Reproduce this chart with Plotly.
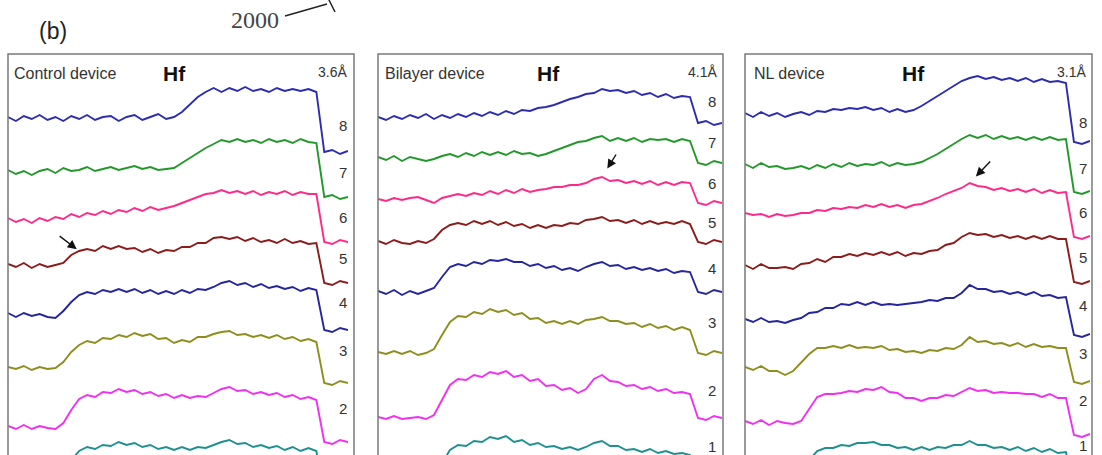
import plotly.graph_objects as go

# sample index along each line scan (44 samples per scan)
positions = list(range(44))

panel_titles = ["Control device", "Bilayer device", "NL device"]
element_label = "Hf"
thickness_labels = ["3.6Å", "4.1Å", "3.1Å"]
trace_numbers = [8, 7, 6, 5, 4, 3, 2, 1]

# ---- Control device (stacked signal, a.u.) ----
ctrl_8 = [338, 334, 339, 336, 340, 335, 338, 334, 339, 336, 340, 335, 338, 339, 334, 338, 340, 335, 338, 341, 336,
          338, 343, 350, 358, 363, 367, 363, 367, 364, 368, 364, 366, 363, 367, 364, 366, 364, 366, 363,
          303, 305, 301, 304]
ctrl_7 = [285, 281, 284, 280, 284, 286, 282, 287, 284, 285, 288, 284, 286, 288, 285, 287, 289, 286, 288, 285, 286,
          287, 292, 297, 302, 307, 311, 315, 313, 316, 313, 315, 312, 316, 313, 315, 312, 316, 313, 312,
          258, 260, 256, 258]
ctrl_6 = [237, 233, 236, 232, 237, 234, 238, 236, 241, 238, 242, 240, 244, 241, 245, 243, 247, 244, 248, 245, 247,
          249, 252, 255, 258, 261, 262, 265, 262, 264, 261, 264, 260, 263, 261, 264, 260, 263, 261, 261,
          213, 211, 215, 213]
ctrl_5 = [191, 188, 192, 187, 191, 188, 190, 192,
          200, 204, 206, 204, 209, 206, 209, 206, 207, 203, 206, 202, 205, 204, 208, 208, 212, 212, 217, 218,
          216, 218, 214, 217, 213, 215, 212, 216, 212, 214, 211, 212,
          172, 170, 174, 172]
ctrl_4 = [142, 138, 142, 139, 141, 138, 137,
          144, 153, 160, 163, 161, 165, 163, 166, 163, 166, 162, 165, 161, 164, 161, 165, 162, 166, 165, 168,
          172, 174, 170, 172, 168, 171, 167, 169, 166, 168, 164, 167, 165,
          125, 123, 127, 125]
ctrl_3 = [88, 86, 89, 85, 88, 86, 87,
          93, 103, 110, 114, 112, 117, 116, 120, 118, 122, 119, 121, 116, 117, 112, 115, 113, 118, 118, 121,
          123, 124, 120, 121, 118, 120, 117, 120, 116, 118, 114, 116, 113,
          72, 70, 74, 72]
ctrl_2 = [29, 26, 30, 26, 29, 27, 26,
          32, 45, 56, 60, 58, 63, 62, 66, 63, 65, 61, 63, 59, 61, 57, 60, 57, 59, 58, 62,
          66, 68, 64, 65, 61, 63, 60, 62, 58, 60, 56, 58, 55,
          13, 11, 15, 13]
ctrl_1 = [-28, -29, -27, -28, -30, -28, -29,
          -20, -5, 4, 8, 6, 10, 9, 13, 10, 12, 8, 10, 6, 8, 5, 8, 5, 8, 7, 10,
          13, 15, 11, 12, 8, 10, 7, 9, 5, 8, 4, 7, 4,
          -42, -43, -41, -42]

# ---- Bilayer device ----
bil_8 = [338, 335, 339, 336, 340, 337, 341, 336, 340, 337, 341,
         338, 342, 339, 343, 340, 344, 341, 345, 344, 347, 348, 350, 353, 356, 358, 361, 362, 366, 364,
         365, 362, 364, 360, 362, 358, 361, 357, 359, 358,
         332, 334, 330, 332]
bil_7 = [298, 295, 299, 294, 298, 296, 294,
         296, 299, 301, 298, 302, 299, 303, 300, 303, 300, 304, 301, 302, 299, 301, 304, 307, 310, 313, 314,
         317, 319, 314, 317, 314, 317, 313, 316, 315, 316, 313, 316, 314,
         292, 290, 294, 292]
bil_6 = [256, 254, 257, 255, 257, 258, 255,
         252, 257, 259, 261, 259, 262, 260, 264, 261, 265, 262, 266, 263, 265, 266, 268, 268, 270, 270, 272,
         276, 278, 274, 275, 272, 274, 271, 274, 270, 273, 270, 273, 272,
         252, 250, 254, 252]
bil_5 = [214, 211, 215, 212, 211, 214, 212,
         216, 225, 230, 232, 230, 234, 231, 234, 230, 233, 229, 231, 227, 230, 227, 230, 229, 232, 231, 235,
         236, 238, 234, 235, 232, 235, 231, 234, 231, 233, 231, 234, 231,
         213, 211, 215, 213]
bil_4 = [164, 161, 165, 160, 164, 161, 164,
         167, 178, 188, 191, 189, 193, 191, 195, 194, 196, 193, 193, 189, 191, 187, 189, 185, 187, 184, 188,
         191, 193, 189, 190, 186, 188, 185, 187, 184, 186, 182, 184, 183,
         163, 161, 165, 163]
bil_3 = [103, 101, 104, 101, 104, 100, 102,
         106, 120, 133, 139, 138, 143, 141, 146, 143, 145, 140, 142, 136, 137, 132, 134, 131, 134, 131, 135,
         136, 138, 134, 134, 131, 132, 128, 131, 127, 129, 125, 128, 125,
         102, 100, 104, 102]
bil_2 = [38, 36, 39, 36, 37, 38, 36,
         40, 55, 70, 76, 75, 80, 78, 83, 81, 84, 78, 80, 74, 76, 69, 70, 65, 67, 62, 66,
         76, 80, 74, 73, 69, 70, 66, 68, 64, 66, 62, 63, 61,
         37, 35, 39, 37]
bil_1 = [-28, -27, -29, -28, -30, -27, -28,
         -24, -8, 5, 10, 9, 14, 13, 18, 16, 19, 13, 15, 10, 12, 8, 9, 6, 8, 5, 8,
         12, 14, 9, 9, 5, 6, 3, 6, 2, 4, 1, 2, 0,
         -28, -29, -27, -28]

# ---- NL device ----
nl_8 = [342, 338, 343, 339, 342, 338,
        341, 343, 340, 344, 343, 346, 345, 347, 346, 348, 345, 347, 343, 346, 343, 345,
        349, 354, 359, 364, 369, 374, 377, 379, 376, 378, 375, 377, 374, 377, 373, 376, 373, 374, 372,
        313, 311, 314]
nl_7 = [291, 287, 292, 288, 289, 286,
        287, 289, 286, 290, 287, 291, 288, 292, 289, 291, 290, 293, 289, 292, 290, 291,
        293, 297, 301, 306, 311, 316, 320, 317, 320, 316, 319, 316, 318, 315, 318, 315, 318, 315, 316,
        263, 261, 264]
nl_6 = [242, 240, 241, 238, 241, 239,
        240, 242, 242, 245, 244, 247, 246, 248, 247, 250, 248, 251, 248, 250, 247, 250,
        251, 254, 257, 261, 264, 267, 272, 269, 268, 265, 267, 264, 266, 263, 266, 262, 265, 262, 263,
        218, 216, 219]
nl_5 = [190, 186, 191, 187, 187, 188,
        186, 191, 192, 196, 193, 198, 198, 201, 199, 202, 200, 203, 200, 203, 199, 202,
        201, 204, 205, 210, 212, 218, 222, 220, 221, 218, 220, 217, 219, 216, 219, 216, 219, 216, 216,
        173, 171, 174]
nl_4 = [136, 133, 137, 133, 134, 132,
        135, 137, 142, 143, 147, 147, 151, 150, 153, 150, 153, 150, 151, 150, 151, 152,
        153, 155, 154, 157, 157, 162, 170, 166, 166, 163, 164, 161, 163, 160, 163, 159, 160, 157, 158,
        120, 118, 121]
nl_3 = [88, 85, 89, 84, 84, 80,
        84, 92, 101, 107, 107, 109, 107, 110, 107, 108, 107, 109, 105, 106, 103, 104,
        102, 105, 104, 107, 106, 110, 118, 113, 114, 111, 112, 109, 112, 108, 111, 108, 109, 107, 107,
        73, 71, 74]
nl_2 = [34, 31, 35, 30, 34, 32,
        31, 34, 46, 58, 61, 61, 62, 64, 63, 66, 65, 68, 63, 62, 57, 57,
        54, 57, 57, 60, 59, 63, 67, 64, 65, 62, 63, 62, 62, 61, 61, 58, 61, 57, 57,
        20, 18, 21]
nl_1 = [-25, -26, -24, -27, -25, -26,
        -24, -18, -5, 4, 7, 7, 10, 9, 12, 12, 13, 10, 10, 7, 8, 5,
        8, 5, 8, 7, 10, 10, 14, 10, 10, 7, 8, 5, 8, 4, 7, 3, 6, 2, 3,
        -35, -36, -35]

panels = [
    [ctrl_8, ctrl_7, ctrl_6, ctrl_5, ctrl_4, ctrl_3, ctrl_2, ctrl_1],
    [bil_8, bil_7, bil_6, bil_5, bil_4, bil_3, bil_2, bil_1],
    [nl_8, nl_7, nl_6, nl_5, nl_4, nl_3, nl_2, nl_1],
]

# ---------------- layout / style ----------------
W, H = 1102, 455
colors = {8: "#2c2cb0", 7: "#23982a", 6: "#ff2a88", 5: "#8c1c1c",
          4: "#25259c", 3: "#8e8e1f", 2: "#f030f0", 1: "#1f9090"}
trace_px = [(8, 348), (378, 722), (745, 1090)]      # horizontal extent of the scans (px)
frame_px = [(8, 354), (378, 723), (745, 1092)]      # panel frames (px)
frame_top = 54
label_x = [343, 712, 1083]
# vertical position of the trace-number labels (None: below the visible area)
label_y = [
    [125, 172, 217, 258, 302, 350, 408, None],
    [102, 142, 183, 222, 268, 322, 390, 446],
    [123, 168, 212, 257, 305, 353, 400, 445],
]
title_x = [12, 383, 752]
hf_x = [174, 548, 913]
thick_x = [349, 719, 1088]


def px(x):
    return x / W


def py(y):
    return 1 - y / H


fig = go.Figure()
for p, traces in enumerate(panels):
    ax_name = "x" if p == 0 else f"x{p + 1}"
    for num, vals in zip(trace_numbers, traces):
        fig.add_trace(go.Scatter(
            x=positions, y=vals, mode="lines", xaxis=ax_name, yaxis="y",
            line=dict(color=colors[num], width=1.9), showlegend=False, hoverinfo="skip"))

layout_axes = {}
for p, (a, b) in enumerate(trace_px):
    key = "xaxis" if p == 0 else f"xaxis{p + 1}"
    layout_axes[key] = dict(domain=[px(a), px(b)], range=[0, len(positions) - 1],
                            visible=False, anchor="y", fixedrange=True)
layout_axes["yaxis"] = dict(domain=[0, 1], range=[0, H], visible=False, fixedrange=True)

shapes = []
for (a, b) in frame_px:
    shapes.append(dict(type="path", xref="paper", yref="paper",
                       path=f"M {px(a)},{py(470)} L {px(a)},{py(frame_top)} L {px(b)},{py(frame_top)} L {px(b)},{py(470)}",
                       line=dict(color="#7a7a7a", width=1.5)))
# scale fragment at the top
shapes.append(dict(type="line", xref="paper", yref="paper", x0=px(285), y0=py(16), x1=px(327), y1=py(4),
                   line=dict(color="#222", width=1.5)))
shapes.append(dict(type="line", xref="paper", yref="paper", x0=px(328), y0=py(-2), x1=px(335), y1=py(12),
                   line=dict(color="#222", width=1.5)))

ann = []
ann.append(dict(text="(b)", x=px(37), y=py(31), xref="paper", yref="paper", xanchor="left", yanchor="middle",
                showarrow=False, font=dict(family="Arial, Liberation Sans", size=23, color="#222")))
ann.append(dict(text="2000", x=px(255), y=py(20), xref="paper", yref="paper", xanchor="center", yanchor="middle",
                showarrow=False, font=dict(family="Liberation Serif, Times New Roman", size=24, color="#444")))
for p in range(3):
    ann.append(dict(text=panel_titles[p], x=px(title_x[p]), y=py(73), xref="paper", yref="paper",
                    xanchor="left", yanchor="middle", showarrow=False,
                    font=dict(family="Arial, Liberation Sans", size=16, color="#333")))
    ann.append(dict(text=f"<b>{element_label}</b>", x=px(hf_x[p]), y=py(73), xref="paper", yref="paper",
                    xanchor="center", yanchor="middle", showarrow=False,
                    font=dict(family="Arial, Liberation Sans", size=21, color="#111")))
    ann.append(dict(text=thickness_labels[p], x=px(thick_x[p]), y=py(72), xref="paper", yref="paper",
                    xanchor="right", yanchor="middle", showarrow=False,
                    font=dict(family="Arial, Liberation Sans", size=14, color="#333")))
    for num, ly in zip(trace_numbers, label_y[p]):
        if ly is None:
            continue
        ann.append(dict(text=str(num), x=px(label_x[p]), y=py(ly), xref="paper", yref="paper",
                        xanchor="center", yanchor="middle", showarrow=False,
                        font=dict(family="Arial, Liberation Sans", size=15, color="#333")))

# arrows marking features
arrow_style = dict(showarrow=True, arrowhead=2, arrowsize=1.3, arrowwidth=1.4, arrowcolor="#111", text="")
ann.append(dict(x=9, y=ctrl_5[9], xref="x", yref="y", ax=-21, ay=-16, standoff=3, **arrow_style))
ann.append(dict(x=28, y=bil_6[28], xref="x2", yref="y", ax=15, ay=-24, standoff=10, **arrow_style))
ann.append(dict(x=28, y=nl_6[28], xref="x3", yref="y", ax=22, ay=-23, standoff=9, **arrow_style))

fig.update_layout(width=W, height=H, margin=dict(l=0, r=0, t=0, b=0),
                  paper_bgcolor="white", plot_bgcolor="white",
                  shapes=shapes, annotations=ann, **layout_axes)

fig.write_html("out.html")
